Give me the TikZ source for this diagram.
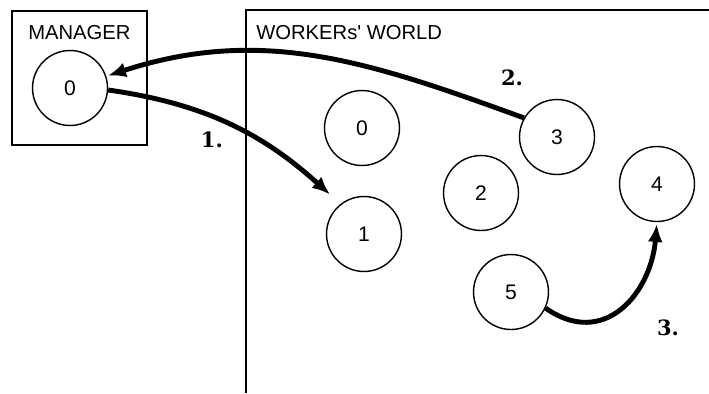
\documentclass[tikz,border=0pt]{standalone}
\usepackage{fontspec}
\newfontfamily\helv{Liberation Sans}
\newfontfamily\stepserif{DejaVu Serif}
\usetikzlibrary{arrows.meta}

\begin{document}
\begin{tikzpicture}[x=0.02cm, y=0.02cm, >={Latex[length=3.6mm, width=3mm]},
	proc/.style={draw, circle, line width=0.8pt, minimum size=1.5cm, inner sep=0pt, font=\helv\fontsize{12}{14}\selectfont},
	title/.style={font=\helv\fontsize{11.5}{13}\selectfont, anchor=west, inner sep=0pt},
	stepno/.style={font=\stepserif\bfseries\fontsize{12}{14}\selectfont, inner sep=0pt},
	msg/.style={->, line width=2.8pt}]
	\useasboundingbox (0,0) rectangle (709,-393);
	% manager and the workers' world
	\draw[line width=0.9pt] (12,-11) rectangle (147,-145);
	\draw[line width=0.9pt] (246,-393) -- (246,-10) -- (709,-10);
	\node[title] (mtitle) at (28,-33) {MANAGER};
	\node[title] (wtitle) at (256,-33) {WORKERs' WORLD};
	\node[proc] (m0) at (70,-88) {0};
	\foreach \n/\x/\y in {0/362/128, 1/364/234, 2/481/193, 3/557/137, 4/657/184, 5/511/292}
		\node[proc] (w\n) at (\x,-\y) {\n};
	% messages
	\draw[msg, shorten >=8pt] (m0.-3) to[out=-8, in=138] (w1.128);
	\draw[msg, shorten >=1pt] (w3.150) to[out=160, in=18] (m0.18);
	\draw[msg, shorten >=1pt] (w5.-25) to[out=-35, in=-95, looseness=1.3] (w4.-90);
	\node[stepno] (s1) at (212,-140) {1.};
	\node[stepno] (s2) at (512,-78) {2.};
	\node[stepno] (s3) at (668,-328) {3.};
\end{tikzpicture}
\end{document}
